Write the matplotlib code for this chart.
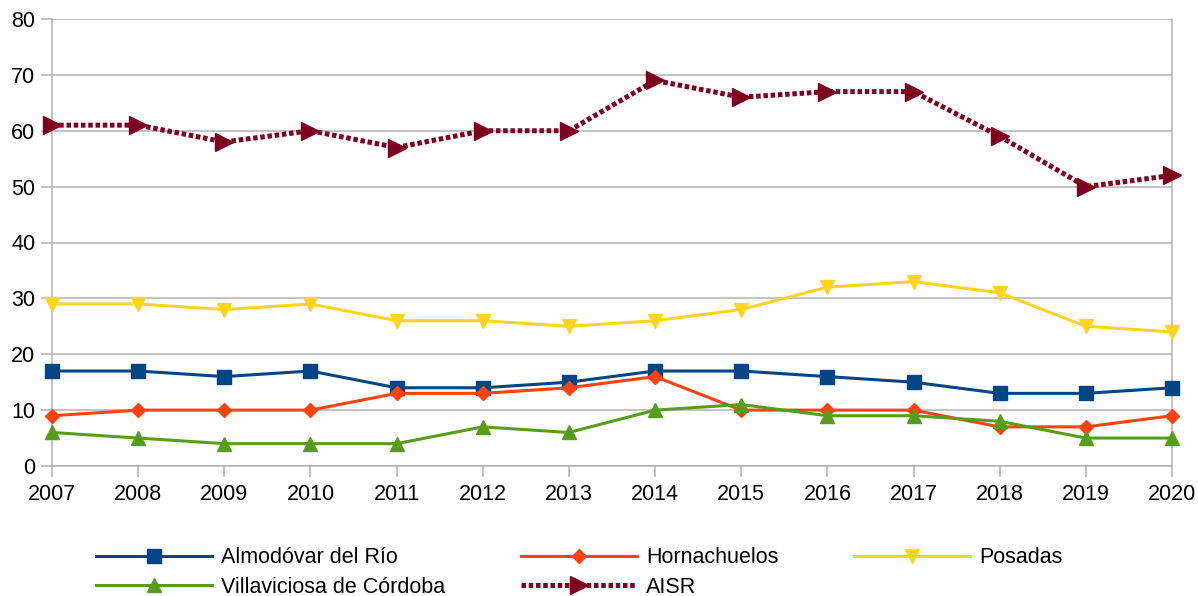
import matplotlib
matplotlib.use("Agg")
import matplotlib.pyplot as plt

plt.rcParams['font.family'] = ['Liberation Sans', 'DejaVu Sans']

years = [2007, 2008, 2009, 2010, 2011, 2012, 2013, 2014, 2015, 2016, 2017, 2018, 2019, 2020]
almodovar = [17, 17, 16, 17, 14, 14, 15, 17, 17, 16, 15, 13, 13, 14]
hornachuelos = [9, 10, 10, 10, 13, 13, 14, 16, 10, 10, 10, 7, 7, 9]
posadas = [29, 29, 28, 29, 26, 26, 25, 26, 28, 32, 33, 31, 25, 24]
villaviciosa = [6, 5, 4, 4, 4, 7, 6, 10, 11, 9, 9, 8, 5, 5]
aisr = [61, 61, 58, 60, 57, 60, 60, 69, 66, 67, 67, 59, 50, 52]

fig = plt.figure(figsize=(11.98, 5.96), dpi=100)
ax = fig.add_axes([52 / 1198, 1 - 466 / 596, 1120 / 1198, 447 / 596])

grid_c = '#b3b3b3'
lw = 2.2
fs = 15.5

h_alm, = ax.plot(years, almodovar, color='#004586', lw=lw, marker='s', ms=9.5,
                 label='Almodóvar del Río', zorder=3)
h_hor, = ax.plot(years, hornachuelos, color='#ff420e', lw=lw, marker='D', ms=7.5,
                 label='Hornachuelos', zorder=3)
h_pos, = ax.plot(years, posadas, color='#ffd320', lw=lw, marker='v', ms=10.5,
                 label='Posadas', zorder=3)
h_vil, = ax.plot(years, villaviciosa, color='#579d1c', lw=lw, marker='^', ms=10.5,
                 label='Villaviciosa de Córdoba', zorder=3)
h_ais, = ax.plot(years, aisr, color='#7e0021', lw=3.6, ls=(0, (0.9, 0.55)),
                 marker='>', ms=13, label='AISR', zorder=3)

ax.set_xlim(2007, 2020)
ax.set_ylim(0, 80)
ax.set_yticks(range(0, 81, 10))
ax.set_xticks(years)
ax.set_xticklabels([str(y) for y in years])

ax.grid(axis='y', color=grid_c, lw=1.1)
ax.set_axisbelow(True)
for side in ['left', 'right', 'bottom']:
    ax.spines[side].set_color(grid_c)
    ax.spines[side].set_linewidth(1.1)
ax.spines['top'].set_visible(False)
ax.tick_params(axis='both', colors=grid_c, labelcolor='black', labelsize=fs,
               length=8, width=1.1, direction='out')
ax.tick_params(axis='x', pad=5)
ax.tick_params(axis='y', pad=4)
for lab in ax.get_xticklabels() + ax.get_yticklabels():
    lab.set_clip_on(False)
for line in ax.get_lines():
    line.set_clip_on(False)

handles = [h_alm, h_vil, h_hor, h_ais, h_pos]
fig.legend(handles=handles, labels=[h.get_label() for h in handles],
           ncol=3, loc='center', bbox_to_anchor=(579 / 1198, 1 - 572.5 / 596),
           frameon=False, fontsize=fs, handlelength=5.4, handletextpad=0.42,
           columnspacing=3.5, labelspacing=0.38, borderaxespad=0)

fig.savefig('out.png', dpi=100)
